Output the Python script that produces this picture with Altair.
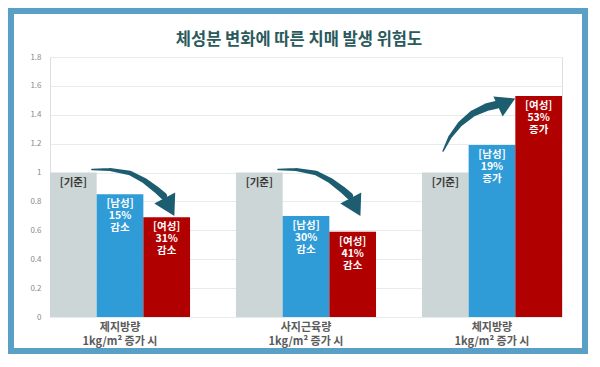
import altair as alt
import pandas as pd

FONT = "Noto Sans CJK KR"

# ---- data ----
groups = ["제지방량|1kg/m² 증가 시", "사지근육량|1kg/m² 증가 시", "체지방량|1kg/m² 증가 시"]
series = ["기준", "남성", "여성"]
base_values = [1.0, 1.0, 1.0]
male_values = [0.85, 0.70, 1.19]
female_values = [0.69, 0.59, 1.53]
base_labels = ["[기준]", "[기준]", "[기준]"]
male_labels = ["[남성]\n15%\n감소", "[남성]\n30%\n감소", "[남성]\n19%\n증가"]
female_labels = ["[여성]\n31%\n감소", "[여성]\n41%\n감소", "[여성]\n53%\n증가"]
y_ticks = [0, 0.2, 0.4, 0.6, 0.8, 1.0, 1.2, 1.4, 1.6, 1.8]

# curved arrows (x in group units: group centre = 0, 1, 2)
arrow_id = [1, 1, 1, 1, 1, 1,
            2, 2, 2, 2, 2, 2,
            3, 3, 3, 3, 3, 3]
arrow_u = [-0.151, -0.054, 0.054, 0.134, 0.199, 0.234,
           0.849, 0.946, 1.054, 1.134, 1.199, 1.234,
           1.737, 1.774, 1.828, 1.898, 1.973, 2.022]
arrow_y = [1.021, 1.021, 0.997, 0.942, 0.879, 0.838,
           1.021, 1.021, 0.997, 0.942, 0.879, 0.838,
           1.149, 1.246, 1.336, 1.410, 1.454, 1.468]
arrow_w = [1.5, 3.0, 4.5, 5.5, 6.5, 7.0,
           1.5, 3.0, 4.5, 5.5, 6.5, 7.0,
           1.5, 3.5, 5.0, 6.5, 7.5, 8.0]
head_u = [0.258, 1.258, 2.063]
head_y = [0.782, 0.782, 1.476]
head_angle = [152, 152, 65]
head_size = [560, 560, 480]

# ---- tables ----
rows = []
for gi, g in enumerate(groups):
    for s, vals, labs in zip(series, [base_values, male_values, female_values],
                             [base_labels, male_labels, female_labels]):
        rows.append({"group": g, "series": s, "value": vals[gi], "label": labs[gi]})
bars_df = pd.DataFrame(rows)

arrow_df = pd.DataFrame({"arrow": arrow_id, "u": arrow_u, "y": arrow_y, "w": arrow_w,
                         "i": list(range(len(arrow_u)))})
head_df = pd.DataFrame({"u": head_u, "y": head_y, "a": head_angle, "s": head_size})

y_axis = alt.Axis(title=None, values=y_ticks, format="~g", domain=False, ticks=False,
                  labelFont=FONT, labelFontSize=8, labelColor="#8a8a8a", labelPadding=9,
                  gridColor="#e6ebeb", gridWidth=1)
y_scale = alt.Scale(domain=[0, 1.8], nice=False)

x_enc = alt.X("group:N", sort=groups,
              scale=alt.Scale(paddingInner=0.247, paddingOuter=0),
              axis=alt.Axis(title=None, labelExpr="split(datum.label, '|')", labelAngle=0,
                            ticks=False, domain=False, grid=False,
                            labelFont=FONT, labelFontSize=11, labelFontWeight="bold",
                            labelColor="#5a5a5a", labelLineHeight=14, labelPadding=4))
xoff_enc = alt.XOffset("series:N", sort=series, scale=alt.Scale(paddingInner=0, paddingOuter=0))

base = alt.Chart(bars_df)
bars = base.mark_bar().encode(
    x=x_enc,
    xOffset=xoff_enc,
    y=alt.Y("value:Q", scale=y_scale, axis=y_axis),
    color=alt.Color("series:N", sort=series,
                    scale=alt.Scale(domain=series, range=["#ccd6d6", "#2f9bd7", "#b00000"]),
                    legend=None),
)
texts = base.mark_text(baseline="top", dy=5, lineBreak="\n", fontSize=10.5,
                       fontWeight="bold", lineHeight=12, font=FONT).encode(
    x=x_enc,
    xOffset=xoff_enc,
    y=alt.Y("value:Q", scale=y_scale, axis=y_axis),
    text="label:N",
    color=alt.condition(alt.datum.series == "기준", alt.value("#3a3a3a"), alt.value("white")),
)
bar_layer = alt.layer(bars, texts)

ax = alt.X("u:Q", scale=alt.Scale(domain=[-0.376, 2.376], nice=False, zero=False), axis=None)
ARROW = "#1c5d70"
trail = alt.Chart(arrow_df).mark_trail(color=ARROW).encode(
    x=ax,
    y=alt.Y("y:Q", scale=y_scale, axis=y_axis),
    size=alt.Size("w:Q", scale=None, legend=None),
    detail="arrow:N",
    order="i:Q",
)
heads = alt.Chart(head_df).mark_point(shape="triangle", filled=True, opacity=1,
                                      color=ARROW).encode(
    x=ax,
    y=alt.Y("y:Q", scale=y_scale, axis=y_axis),
    angle=alt.Angle("a:Q", scale=None),
    size=alt.Size("s:Q", scale=None, legend=None),
)
arrow_layer = alt.layer(trail, heads)

frame = alt.Chart(alt.Data(values=[{}])).mark_rect(
    fillOpacity=0, stroke="#5a9fc6", strokeWidth=6).encode(
    x=alt.value(-39), x2=alt.value(535), y=alt.value(-46), y2=alt.value(294))

chart = alt.layer(bar_layer, arrow_layer, frame).resolve_scale(
    x="independent", size="independent"
).properties(
    width=512, height=260,
    autosize=alt.AutoSizeParams(type="none"),
    padding={"left": 42, "top": 49, "right": 26, "bottom": 37},
    title=alt.TitleParams("체성분 변화에 따른 치매 발생 위험도", fontSize=16.5, fontWeight="bold",
                          color="#2b5a5c", font=FONT, offset=-40, dx=-7, anchor="middle",
                          frame="group"),
).configure_view(stroke=None).configure(background="white")

chart.save("out.html", embed_options={"renderer": "svg", "actions": False})
